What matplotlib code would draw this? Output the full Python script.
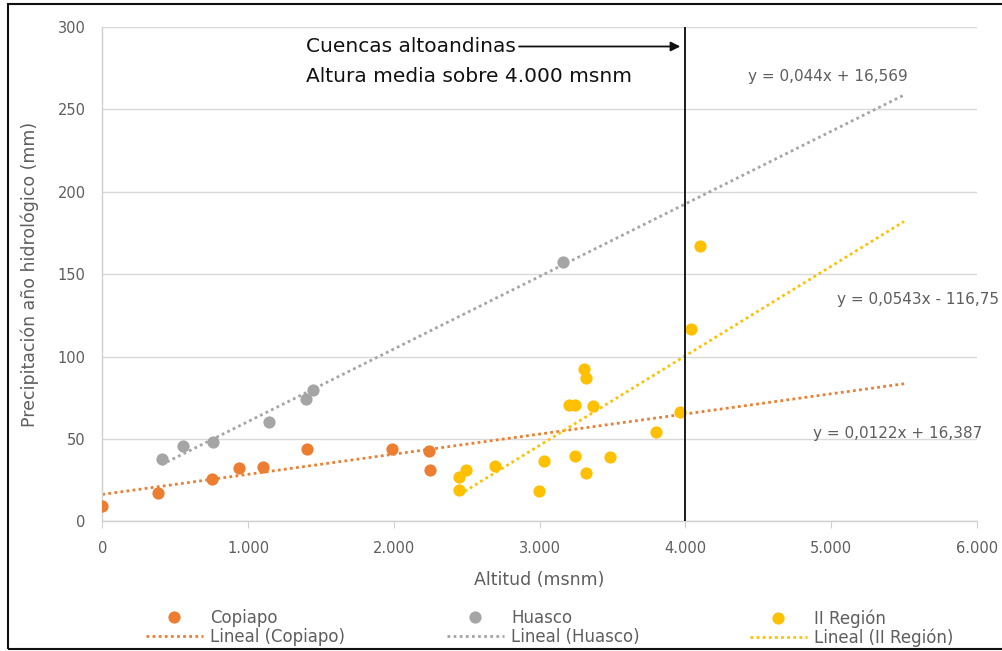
import matplotlib
matplotlib.use('Agg')
import matplotlib.pyplot as plt
from matplotlib.patches import Rectangle
from matplotlib.ticker import FuncFormatter
import numpy as np

plt.rcParams['font.family'] = ['DejaVu Sans']

# datos
cop_x = [0, 380, 750, 940, 1100, 1405, 1990, 2240, 2250]
cop_y = [9.5, 17, 26, 32.5, 33, 44, 44, 43, 31.5]

hua_x = [407, 551, 762, 1146, 1398, 1443, 3157]
hua_y = [37.6, 45.8, 48.1, 60.2, 74.5, 79.9, 157.5]

reg_x = [2450, 2450, 2496, 2697, 2999, 3027, 3200, 3246, 3246, 3303,
         3320, 3320, 3365, 3482, 3800, 3960, 4038, 4097]
reg_y = [19.0, 27.1, 31.3, 33.7, 18.6, 36.6, 70.6, 70.6, 39.6, 92.6,
         86.9, 29.1, 69.8, 38.8, 54.1, 66.6, 116.6, 167.3]

# lineas de tendencia (pendiente, intercepto) segun las ecuaciones
cop_fit = (0.0122, 16.387)
hua_fit = (0.044, 16.569)
reg_fit = (0.0543, -116.75)
fit_end = 5500

c_cop = '#ED7D31'
c_hua = '#A5A5A5'
c_reg = '#FFC000'
c_txt = '#5E5E5E'

fig = plt.figure(figsize=(10.02, 6.51), dpi=100)
ax = fig.add_axes([0.1021, 0.199, 0.975 - 0.1021, 0.959 - 0.199])

series = [
    (cop_x, cop_y, cop_fit, c_cop, 'Copiapo'),
    (hua_x, hua_y, hua_fit, c_hua, 'Huasco'),
    (reg_x, reg_y, reg_fit, c_reg, 'II Región'),
]
handles = []
for xs, ys, (m, b), col, name in series:
    tx = np.array([min(xs), fit_end])
    ln, = ax.plot(tx, m * tx + b, color=col, lw=2.0, ls=(0, (1, 1.2)),
                  label='Lineal (%s)' % name, zorder=2)
    pt, = ax.plot(xs, ys, 'o', color=col, ms=8.8, mec='none', label=name, zorder=3)
    handles.append((pt, ln))

# linea vertical 4000 msnm
ax.plot([4000, 4000], [0, 300], color='#1a1a1a', lw=1.4, zorder=4)

ax.annotate('Cuencas altoandinas', xy=(3965, 288), xytext=(1400, 288),
            fontsize=14.5, color='#111111', ha='left', va='center',
            arrowprops=dict(arrowstyle='-|>', color='#111111', lw=1.3,
                            shrinkA=0, shrinkB=0, relpos=(1, 0.5),
                            mutation_scale=14))
ax.text(1400, 269.8, 'Altura media sobre 4.000 msnm', fontsize=14.5,
        color='#111111', ha='left', va='center')

ax.text(4432, 269.6, 'y = 0,044x + 16,569', fontsize=11, color=c_txt,
        ha='left', va='center')
ax.text(5040, 134.3, 'y = 0,0543x - 116,75', fontsize=11, color=c_txt,
        ha='left', va='center', clip_on=False)
ax.text(4877, 53.1, 'y = 0,0122x + 16,387', fontsize=11, color=c_txt,
        ha='left', va='center')

ax.set_xlim(0, 6000)
ax.set_ylim(0, 300)
ax.set_xticks(range(0, 6001, 1000))
ax.set_yticks(range(0, 301, 50))
ax.xaxis.set_major_formatter(FuncFormatter(lambda v, p: '{:,.0f}'.format(v).replace(',', '.')))
ax.grid(axis='y', color='#D9D9D9', lw=1)
ax.set_axisbelow(True)
for s in ['top', 'right']:
    ax.spines[s].set_visible(False)
for s in ['left', 'bottom']:
    ax.spines[s].set_color('#D0D0D0')
    ax.spines[s].set_linewidth(1)
ax.tick_params(axis='x', colors='#D0D0D0', labelcolor=c_txt, labelsize=10.5,
               length=5, pad=9)
ax.tick_params(axis='y', length=0, labelcolor=c_txt, labelsize=10.5, pad=12)

ax.set_xlabel('Altitud (msnm)', fontsize=12.5, color=c_txt, labelpad=11)
ax.set_ylabel('Precipitación año hidrológico (mm)', fontsize=12.5, color=c_txt,
              labelpad=13)

# leyenda en tres columnas
leg_left = [146, 447, 750]
for (pt, ln), lx in zip(handles, leg_left):
    lg = fig.legend([pt, ln], [pt.get_label(), ln.get_label()],
                    loc='upper left', bbox_to_anchor=(lx / 1002, 1 - 609 / 651),
                    frameon=False, fontsize=12, borderpad=0, borderaxespad=0,
                    handlelength=3.4, handletextpad=0.45, labelspacing=0.05)
    for t in lg.get_texts():
        t.set_color(c_txt)

# marco exterior
fig.patches.append(Rectangle((8 / 1002, 1 - 649 / 651), 1.1, (649 - 3.5) / 651,
                             transform=fig.transFigure, fill=False,
                             ec='#111111', lw=1.5))

fig.savefig('out.png', dpi=100)
